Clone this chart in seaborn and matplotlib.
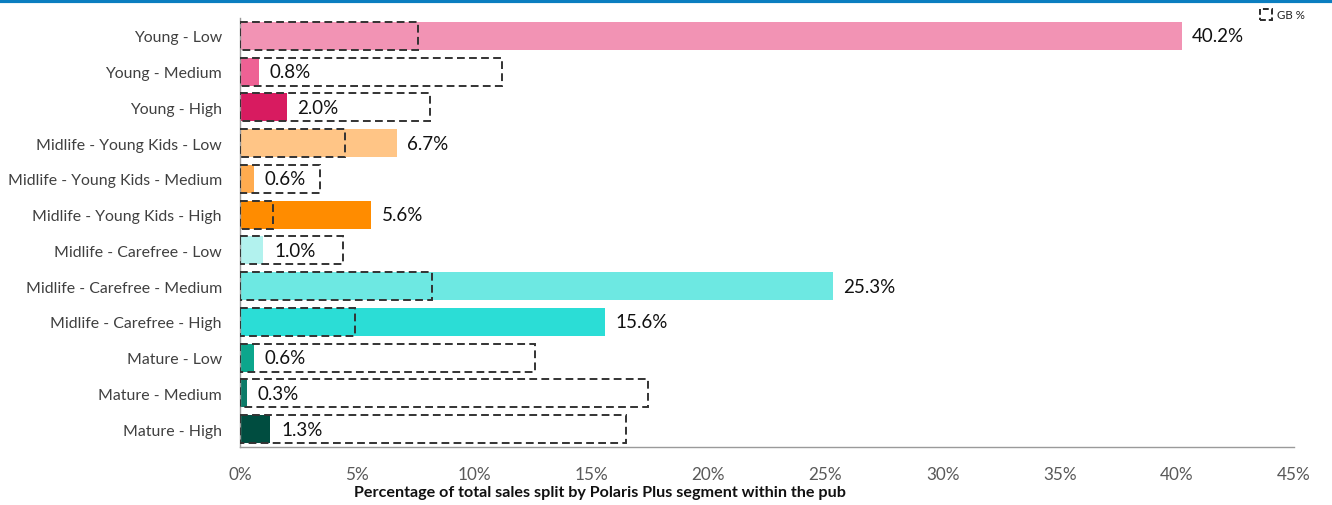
import matplotlib
matplotlib.use("Agg")
import matplotlib.pyplot as plt
from matplotlib.patches import Patch
from matplotlib.lines import Line2D
from matplotlib.ticker import PercentFormatter, FixedLocator
import seaborn as sns
import pandas as pd

segments = [
    "Young - Low", "Young - Medium", "Young - High",
    "Midlife - Young Kids - Low", "Midlife - Young Kids - Medium", "Midlife - Young Kids - High",
    "Midlife - Carefree - Low", "Midlife - Carefree - Medium", "Midlife - Carefree - High",
    "Mature - Low", "Mature - Medium", "Mature - High",
]
pub_share = [40.2, 0.8, 2.0, 6.7, 0.6, 5.6, 1.0, 25.3, 15.6, 0.6, 0.3, 1.3]
gb_share = [7.6, 11.2, 8.1, 4.5, 3.4, 1.4, 4.4, 8.2, 4.9, 12.6, 17.4, 16.5]
segment_colors = [
    "#F293B4", "#EE6194", "#D81B60",
    "#FFC586", "#FFAB4F", "#FF8C00",
    "#B2F2EE", "#6DE8E2", "#2BDDD6",
    "#0CA68C", "#0C7B68", "#004D40",
]
x_ticks = [0, 5, 10, 15, 20, 25, 30, 35, 40, 45]

df = pd.DataFrame({"segment": segments, "pub": pub_share, "gb": gb_share})

sns.set_theme(style="white")
plt.rcParams["font.family"] = ["Lato", "DejaVu Sans"]

fig = plt.figure(figsize=(13.32, 5.06), dpi=100)
ax = fig.add_axes([240 / 1332, 1 - 448 / 506, (1294 - 240) / 1332, (448 - 19) / 506])

# Pub share: one solid colour per segment
sns.barplot(data=df, y="segment", x="pub", hue="segment", palette=segment_colors,
            order=segments, hue_order=segments, dodge=False, legend=False,
            width=0.78, ax=ax, saturation=1, linewidth=0, zorder=2)

# GB benchmark: dashed outline boxes on top
sns.barplot(data=df, y="segment", x="gb", order=segments, fill=False,
            color="#333333", width=0.78, ax=ax, linewidth=1.4,
            linestyle=(0, (4, 2.2)), zorder=3)
for p in ax.patches:
    if not p.get_fill():
        p.set_edgecolor("#2b2b2b")
        p.set_linestyle((0, (4, 2.2)))

# Value labels just past the end of each coloured bar
for i, v in enumerate(pub_share):
    ax.text(v + 0.45, i, f"{v:.1f}%", va="center", ha="left",
            fontsize=13.5, color="#111111", zorder=4)

ax.set_xlim(0, 45)
ax.set_ylim(len(segments) - 0.5, -0.5)
ax.xaxis.set_major_locator(FixedLocator(x_ticks))
ax.xaxis.set_major_formatter(PercentFormatter(decimals=0))
ax.tick_params(axis="x", colors="#9a9a9a", length=5, width=1, direction="out",
               labelcolor="#595959", labelsize=12.3, pad=9)
ax.tick_params(axis="y", length=0, labelcolor="#404040", labelsize=11.4, pad=13)
ax.yaxis.set_minor_locator(FixedLocator([k - 0.5 for k in range(len(segments) + 1)]))
ax.tick_params(axis="y", which="minor", length=5, width=1, color="#9a9a9a", direction="out")

ax.set_ylabel("")
ax.set_xlabel("Percentage of total sales split by Polaris Plus segment within the pub",
              fontsize=11.6, fontweight="bold", color="#111111")
ax.xaxis.set_label_coords((600 - 240) / (1294 - 240), -(493 - 448) / (448 - 19))
ax.xaxis.label.set_va("center")

for side in ["top", "right"]:
    ax.spines[side].set_visible(False)
for side in ["left", "bottom"]:
    ax.spines[side].set_color("#9a9a9a")
    ax.spines[side].set_linewidth(1)

# Legend for the GB outline
handle = Patch(facecolor="none", edgecolor="#2b2b2b", linestyle=(0, (3, 1.5)), linewidth=1.4)
fig.legend([handle], ["GB %"], loc="upper right", bbox_to_anchor=(1313 / 1332, 1 - 2 / 506),
           frameon=False, fontsize=8.3, handlelength=1.05, handleheight=1.05,
           handletextpad=0.45, borderpad=0.2, labelcolor="#222222")

# Blue rule across the top edge
fig.add_artist(Line2D([0, 1], [1 - 1.5 / 506, 1 - 1.5 / 506], transform=fig.transFigure,
                      color="#0B7EC0", linewidth=3))

fig.savefig("out.png", dpi=100)
